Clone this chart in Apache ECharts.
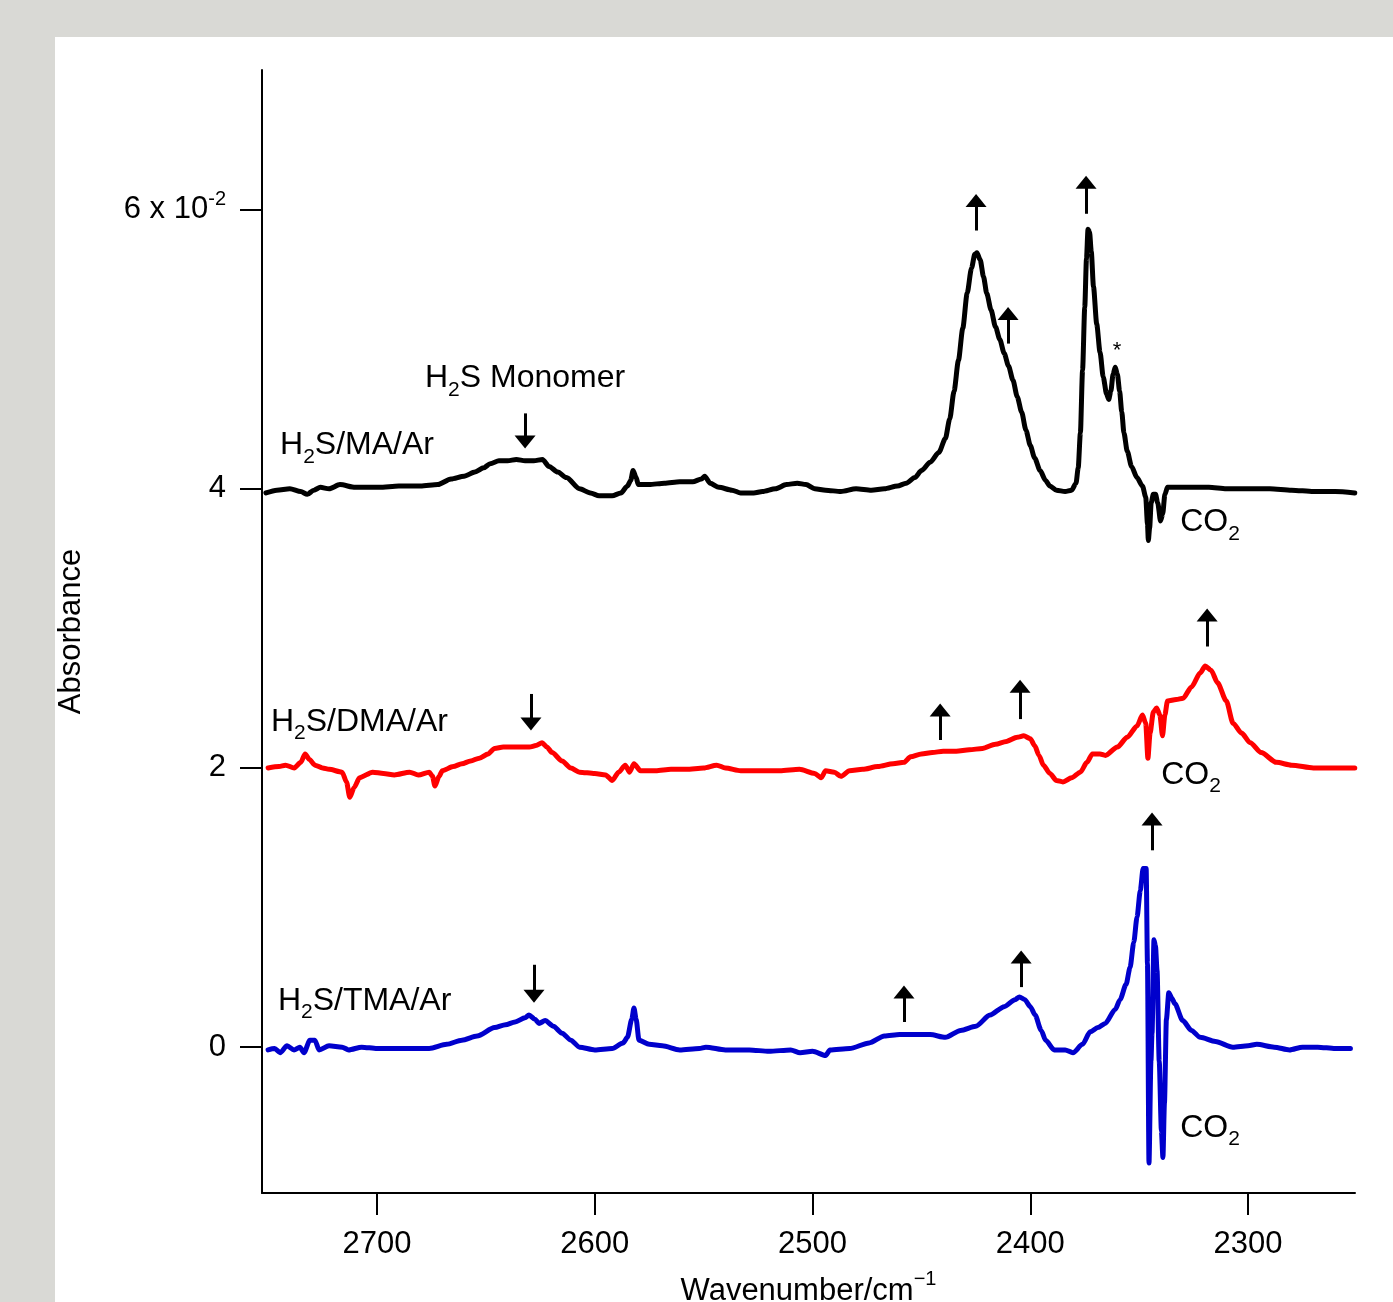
<!DOCTYPE html>
<html>
<head>
<meta charset="utf-8">
<script src="https://cdn.jsdelivr.net/npm/echarts@6/dist/echarts.min.js"></script>
<style>
  html, body { margin: 0; padding: 0; }
  body { width: 1393px; height: 1302px; background: #d9d9d5; position: relative; overflow: hidden; }
  #panel { position: absolute; left: 55px; top: 37px; width: 1338px; height: 1265px; background: #fff; }
  #chart { width: 1338px; height: 1265px; }
</style>
</head>
<body>
<div id="panel"><div id="chart"></div></div>
<script>
  // absorbance in units of 10^-2, wavenumber in cm^-1
  var maSpectrum = [
    [2751, 3.97], [2746, 3.99], [2740, 4.00], [2735, 3.98], [2732, 3.96], [2729, 3.99], [2726, 4.01],
    [2722, 4.00], [2717, 4.03], [2710, 4.01], [2704, 4.01], [2699, 4.01], [2690, 4.02], [2680, 4.02],
    [2672, 4.03], [2666, 4.07], [2660, 4.09], [2655, 4.12], [2651, 4.15], [2648, 4.18], [2644, 4.20],
    [2640, 4.20], [2636, 4.21], [2632, 4.20], [2628, 4.20], [2624, 4.21], [2621, 4.16], [2617, 4.12],
    [2613, 4.08], [2607, 4.00], [2602, 3.97], [2598, 3.95], [2592, 3.95], [2588, 3.97], [2585, 4.02],
    [2583.5, 4.06], [2582.4, 4.13], [2581, 4.08], [2580, 4.03], [2575, 4.03], [2568, 4.04], [2561, 4.05],
    [2555, 4.05], [2551, 4.07], [2549.5, 4.09], [2547, 4.04], [2543, 4.01], [2537, 3.99], [2533, 3.97],
    [2527, 3.97], [2523, 3.98], [2517, 4.00], [2512, 4.03], [2507, 4.04], [2503, 4.03], [2499, 4.00],
    [2494, 3.99], [2487, 3.98], [2480, 4.00], [2473, 3.99], [2467, 4.00], [2461, 4.02], [2457, 4.04],
    [2453, 4.08], [2450, 4.13], [2446, 4.19], [2442, 4.26], [2439, 4.36], [2437, 4.50], [2435, 4.70],
    [2433, 4.92], [2431, 5.15], [2429, 5.40], [2427, 5.58], [2425.5, 5.68], [2424.5, 5.69], [2423, 5.64],
    [2421.5, 5.52], [2420, 5.40], [2418, 5.28], [2416, 5.16], [2414, 5.07], [2412, 4.97], [2410, 4.88],
    [2408, 4.78], [2406, 4.66], [2404, 4.55], [2402, 4.42], [2400, 4.31], [2398, 4.22], [2395.5, 4.13],
    [2393, 4.06], [2391, 4.02], [2388, 3.99], [2384, 3.98], [2381, 3.99], [2379, 4.04], [2378, 4.15],
    [2377, 4.40], [2376, 4.85], [2375, 5.30], [2374.2, 5.65], [2373.5, 5.86], [2372.8, 5.84], [2372, 5.70],
    [2371, 5.45], [2369.5, 5.18], [2368, 4.98], [2366.5, 4.80], [2365, 4.68], [2364, 4.64], [2363, 4.70],
    [2362, 4.82], [2361, 4.87], [2360, 4.82], [2359, 4.70], [2358, 4.55], [2357, 4.40], [2355.5, 4.27],
    [2353.5, 4.16], [2351, 4.08], [2348.5, 4.02], [2347, 3.94], [2346.2, 3.75], [2345.8, 3.63],
    [2345.2, 3.72], [2344.5, 3.90], [2343.5, 3.96], [2342.5, 3.96], [2341.5, 3.90], [2340.2, 3.77],
    [2339.2, 3.82], [2338.2, 3.96], [2337, 4.01], [2332, 4.01], [2325, 4.01], [2318, 4.01], [2310, 4.00],
    [2300, 4.00], [2290, 4.00], [2280, 3.99], [2270, 3.98], [2260, 3.98], [2251, 3.97]
  ];

  var dmaSpectrum = [
    [2750, 2.00], [2745, 2.01], [2742, 2.02], [2738, 2.00], [2735, 2.04], [2733, 2.10], [2731, 2.06],
    [2728.5, 2.02], [2725, 2.00], [2722, 1.99], [2716, 1.97], [2714, 1.90], [2712.5, 1.79], [2710.5, 1.86],
    [2708, 1.93], [2702, 1.97], [2697, 1.96], [2692, 1.95], [2685, 1.97], [2681, 1.95], [2676, 1.97],
    [2674.5, 1.94], [2673.4, 1.87], [2671.5, 1.94], [2670, 1.98], [2665, 2.01], [2661, 2.03], [2657, 2.05],
    [2653, 2.07], [2649, 2.10], [2646, 2.14], [2642, 2.15], [2638, 2.15], [2634, 2.15], [2630, 2.15],
    [2627, 2.16], [2624.2, 2.18], [2622, 2.15], [2619.6, 2.11], [2615, 2.05], [2611, 2.00], [2607, 1.97],
    [2600, 1.96], [2595, 1.95], [2592, 1.91], [2589, 1.97], [2586, 2.02], [2584, 1.97], [2582, 2.03],
    [2579, 1.98], [2572, 1.98], [2565, 1.99], [2558, 1.99], [2550, 2.00], [2544, 2.02], [2540, 2.00],
    [2533, 1.98], [2524, 1.98], [2515, 1.98], [2506, 1.99], [2499, 1.96], [2496, 1.93], [2494, 1.98],
    [2490, 1.97], [2487, 1.94], [2483, 1.98], [2477, 1.99], [2470, 2.01], [2463, 2.03], [2458, 2.04],
    [2455, 2.08], [2450, 2.10], [2445, 2.11], [2440, 2.12], [2434, 2.12], [2428, 2.13], [2422, 2.14],
    [2416, 2.17], [2411, 2.19], [2406, 2.22], [2403, 2.23], [2400, 2.21], [2398, 2.16], [2396, 2.09],
    [2394, 2.02], [2391, 1.96], [2388, 1.91], [2385, 1.90], [2381, 1.93], [2377, 1.97], [2374, 2.04],
    [2371.5, 2.10], [2368, 2.10], [2365.5, 2.09], [2360, 2.15], [2355.5, 2.22], [2351, 2.30],
    [2348.5, 2.38], [2347, 2.32], [2346, 2.07], [2345, 2.25], [2343.5, 2.40], [2342, 2.43], [2340.5, 2.38],
    [2339.3, 2.23], [2338.2, 2.38], [2337, 2.48], [2333, 2.49], [2329.8, 2.50], [2326, 2.58], [2322, 2.68],
    [2319.7, 2.73], [2317, 2.70], [2314, 2.61], [2310, 2.48], [2306.9, 2.32], [2303, 2.25], [2299, 2.18],
    [2294, 2.11], [2287, 2.04], [2280, 2.02], [2270, 2.00], [2260, 2.00], [2251, 2.00]
  ];

  var tmaSpectrum = [
    [2750, -0.02], [2747, -0.01], [2744.5, -0.04], [2741.3, 0.01], [2738.1, -0.02], [2735.4, 0.00],
    [2733.5, -0.04], [2730.8, 0.05], [2728.5, 0.05], [2726.6, -0.02], [2722, 0.01], [2716, 0.00],
    [2713, -0.02], [2707, 0.00], [2700, -0.01], [2692, -0.01], [2684, -0.01], [2676, -0.01], [2668, 0.02],
    [2661, 0.05], [2654, 0.08], [2646, 0.14], [2641, 0.16], [2636.6, 0.18], [2632, 0.21], [2630.2, 0.23],
    [2627.5, 0.20], [2625.6, 0.17], [2622.8, 0.19], [2619, 0.15], [2615, 0.10], [2611, 0.05], [2607, 0.00],
    [2600, -0.02], [2592, -0.01], [2587, 0.03], [2585, 0.07], [2583, 0.20], [2582, 0.28], [2581, 0.20],
    [2579.7, 0.05], [2575, 0.02], [2569, 0.01], [2561, -0.02], [2552, -0.01], [2549, 0.00], [2540, -0.02],
    [2529, -0.02], [2520, -0.03], [2510, -0.02], [2505.7, -0.04], [2500, -0.03], [2494, -0.06],
    [2492, -0.02], [2483, -0.01], [2474, 0.03], [2467, 0.08], [2460, 0.09], [2452, 0.09], [2446, 0.09],
    [2439, 0.07], [2432, 0.12], [2425, 0.15], [2418.5, 0.23], [2412, 0.29], [2407, 0.34], [2405, 0.36],
    [2402.5, 0.34], [2400, 0.29], [2397.8, 0.23], [2395, 0.12], [2393, 0.05], [2389, -0.02], [2384, -0.02],
    [2380.4, -0.04], [2376, 0.02], [2372.5, 0.11], [2369, 0.14], [2365.6, 0.17], [2361, 0.27],
    [2358.8, 0.34], [2356, 0.45], [2354.2, 0.57], [2352.5, 0.75], [2351, 0.93], [2349.5, 1.12],
    [2348.2, 1.28], [2346.8, 1.28], [2346.2, 0.60], [2345.5, -0.83], [2344.6, -0.10], [2344.1, 0.10],
    [2343.2, 0.77], [2342.5, 0.72], [2341.8, 0.55], [2340.8, -0.10], [2339.8, -0.60], [2339.1, -0.79],
    [2338.4, -0.40], [2337.5, 0.20], [2336.4, 0.39], [2335, 0.35], [2333.6, 0.31], [2330, 0.19],
    [2326, 0.12], [2322, 0.07], [2315, 0.04], [2307, 0.00], [2300, 0.01], [2296, 0.02], [2288, 0.00],
    [2281, -0.02], [2275, 0.00], [2268, 0.00], [2260, -0.01], [2253, -0.01]
  ];

  var xTicks = [2300, 2400, 2500, 2600, 2700];
  var yTicks = [0, 2, 4, 6];

  // annotations: [wavenumber, absorbance, text]
  var notes = [
    [2744.5, 4.31, 'H2S/MA/Ar'],
    [2632.0, 4.79, 'H2S Monomer'],
    [2748.7, 2.33, 'H2S/DMA/Ar'],
    [2745.5, 0.33, 'H2S/TMA/Ar'],
    [2331.2, 3.76, 'CO2'],
    [2339.9, 1.95, 'CO2'],
    [2331.2, -0.58, 'CO2'],
    [2360.2, 4.99, '*']
  ];
  // arrows: [wavenumber, tail, tip]
  var arrows = [
    [2632.0, 4.54, 4.29], [2424.9, 5.85, 6.11], [2410.2, 5.04, 5.30], [2374.4, 5.97, 6.24],
    [2629.3, 2.53, 2.27], [2441.4, 2.20, 2.46], [2404.7, 2.35, 2.63], [2318.8, 2.87, 3.14],
    [2627.9, 0.59, 0.32], [2458.0, 0.18, 0.44], [2404.2, 0.43, 0.69], [2344.1, 1.41, 1.68]
  ];

  var FONT = '"Liberation Sans", Arial, Helvetica, sans-serif';
  var centered = { 'H2S Monomer': 1, '*': 1 };

  var chart = echarts.init(document.getElementById('chart'));

  function spectrum(data, color) {
    return {
      type: 'line', data: data, symbol: 'none', showSymbol: false,
      smooth: 0.25, smoothMonotone: 'x', silent: true, animation: false,
      lineStyle: { color: color, width: 5, join: 'round', cap: 'round' }
    };
  }

  var subStyle = { fontSize: 21, lineHeight: 22, verticalAlign: 'bottom', fontFamily: FONT, color: '#000' };
  var supStyle = { fontSize: 20, lineHeight: 18, verticalAlign: 'top', fontFamily: FONT, color: '#000' };

  chart.setOption({
    animation: false,
    grid: { left: 207, top: 33, width: 1093, height: 1123, containLabel: false, outerBoundsMode: 'none' },
    xAxis: {
      type: 'value', min: 2250.9, max: 2752.8, inverse: true,
      axisLine: { show: true, onZero: false, lineStyle: { color: '#000', width: 2 } },
      axisTick: { show: true, length: 22, customValues: xTicks, lineStyle: { color: '#000', width: 2 } },
      axisLabel: {
        customValues: xTicks, margin: 36, fontSize: 31, color: '#000', fontFamily: FONT,
        formatter: function (v) { return String(v); }
      },
      splitLine: { show: false },
      name: 'Wavenumber/cm{sup|\u22121}', nameLocation: 'middle', nameGap: 76,
      nameTextStyle: { fontSize: 31, lineHeight: 44, color: '#000', fontFamily: FONT, rich: { sup: supStyle } }
    },
    yAxis: {
      type: 'value', min: -1.045, max: 7.0,
      axisLine: { show: true, onZero: false, lineStyle: { color: '#000', width: 2 } },
      axisTick: { show: true, length: 22, customValues: yTicks, lineStyle: { color: '#000', width: 2 } },
      axisLabel: {
        customValues: yTicks, margin: 36, fontSize: 31, lineHeight: 40, color: '#000', fontFamily: FONT,
        formatter: function (v) { return v === 6 ? '6 x 10{sup|-2}' : String(v); },
        rich: { sup: supStyle }
      },
      splitLine: { show: false },
      name: 'Absorbance', nameLocation: 'middle', nameGap: 175, nameRotate: 90,
      nameTextStyle: { fontSize: 31, color: '#000', fontFamily: FONT }
    },
    series: [
      spectrum(maSpectrum, '#000000'),
      spectrum(dmaSpectrum, '#ff0000'),
      spectrum(tmaSpectrum, '#0000cc'),
      {
        type: 'scatter', symbolSize: 0, silent: true, animation: false, z: 5,
        itemStyle: { opacity: 1 },
        data: notes.map(function (n) {
          var c = centered[n[2]];
          return {
            value: [n[0], n[1]], name: n[2],
            label: { position: c ? 'inside' : 'right', fontSize: n[2] === '*' ? 22 : 32 }
          };
        }),
        label: {
          show: true, distance: 0, color: '#000', opacity: 1, fontFamily: FONT, fontSize: 32, lineHeight: 44,
          formatter: function (p) { return p.name.replace(/([HO])2/g, '$1{s|2}'); },
          rich: { s: subStyle }
        },
        markLine: {
          silent: true, animation: false, symbol: ['none', 'none'],
          lineStyle: { color: '#000', width: 3, type: 'solid', opacity: 1 },
          label: { show: false },
          emphasis: { disabled: true },
          data: arrows.map(function (a) {
            var dir = a[2] > a[1] ? 1 : -1;
            return [
              { coord: [a[0], a[1]], symbol: 'none' },
              { coord: [a[0], a[2] - dir * 0.045], symbol: 'triangle', symbolSize: [21, 13] }
            ];
          })
        }
      }
    ]
  });
</script>
</body>
</html>
